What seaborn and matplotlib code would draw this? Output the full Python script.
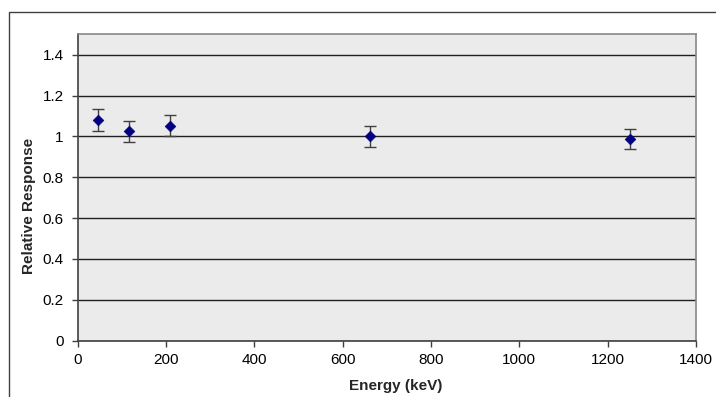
import matplotlib
matplotlib.use("Agg")
import matplotlib.pyplot as plt
from matplotlib.patches import Rectangle
from matplotlib.ticker import FuncFormatter, MultipleLocator
import seaborn as sns
import pandas as pd

energy = [45, 116, 210, 662, 1250]
response = [1.08, 1.025, 1.053, 1.0, 0.985]
error = [0.054, 0.051, 0.052, 0.05, 0.049]

sns.set_style("white")
plt.rcParams['font.family'] = ['Liberation Sans', 'DejaVu Sans']

fig = plt.figure(figsize=(7.16, 3.97), dpi=100)
ax = fig.add_axes([0.1085, 0.1423, 0.8635, 0.7713])
ax.set_facecolor('#EBEBEB')

df = pd.DataFrame({'Energy': energy, 'Response': response})
ax.errorbar(energy, response, yerr=error, fmt='none', ecolor='#404040',
            elinewidth=1, capsize=4, capthick=1, zorder=3)
sns.scatterplot(data=df, x='Energy', y='Response', ax=ax, marker='D',
                s=30, color='#000080', edgecolor='#000080', zorder=4)

ax.set_xlim(0, 1400)
ax.set_ylim(0, 1.5)
ax.xaxis.set_major_locator(MultipleLocator(200))
ax.yaxis.set_major_locator(MultipleLocator(0.2))
ax.yaxis.set_major_formatter(FuncFormatter(lambda v, p: f"{v:g}"))
ax.grid(axis='y', color='#202020', linewidth=1)
ax.set_axisbelow(True)
for s in ax.spines.values():
    s.set_color('#888888')
    s.set_linewidth(1.2)
ax.spines['left'].set_color('#404040')
ax.spines['bottom'].set_color('#404040')
ax.tick_params(axis='both', direction='out', length=4, width=1, color='#404040',
               labelsize=11, colors='black', left=True, bottom=True)
ax.tick_params(axis='x', pad=5)
ax.tick_params(axis='y', pad=6)
ax.set_xlabel('Energy (keV)', fontsize=11, fontweight='bold')
ax.set_ylabel('Relative Response', fontsize=11, fontweight='bold')
ax.xaxis.set_label_coords(0.515, -0.125)
ax.yaxis.set_label_coords(-0.068, 0.44)

fig.patches.append(Rectangle((9/716, -0.1), 1.2, 1.1 - 11.7/397, transform=fig.transFigure,
                             fill=False, edgecolor='#404040', linewidth=1))

fig.savefig('out.png', dpi=100)
